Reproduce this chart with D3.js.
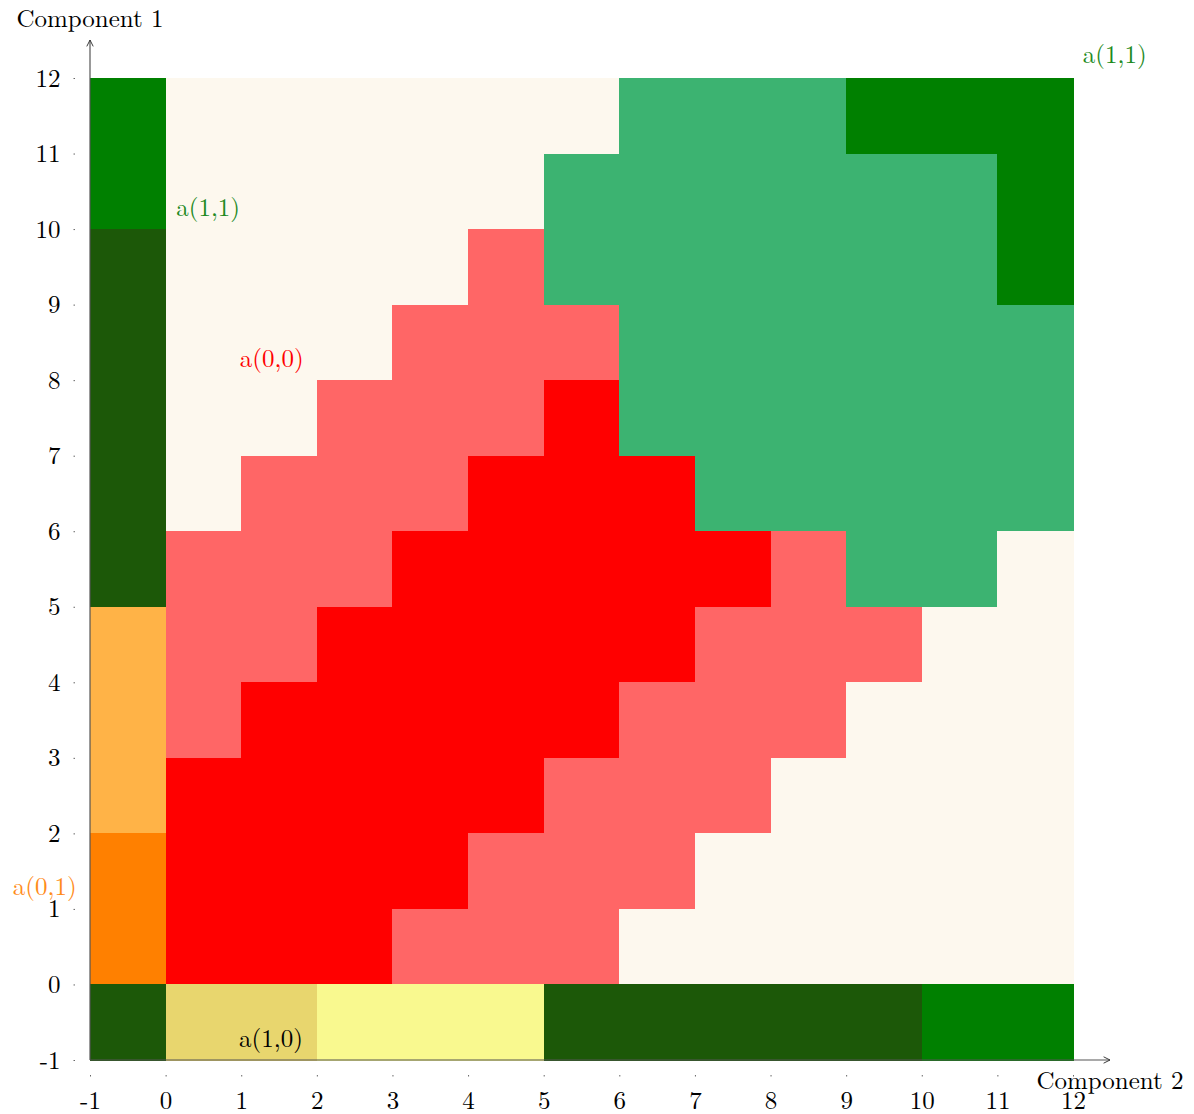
<!DOCTYPE html>
<html>
<head>
<meta charset="utf-8">
<script src="https://cdn.jsdelivr.net/npm/d3@7"></script>
<style>
  body { margin: 0; background: #fff; }
  text { font-family: "Latin Modern Roman", "Liberation Serif", serif; }
</style>
</head>
<body>
<div id="chart"></div>
<script>
// grid values, x = Component 2 (-1..11 cell starts), y = Component 1 rows from top (11) down to -1
var xCells = [-1, 0, 1, 2, 3, 4, 5, 6, 7, 8, 9, 10, 11];
var yRows = [11, 10, 9, 8, 7, 6, 5, 4, 3, 2, 1, 0, -1];
var rowCodes = [
    "GCCCCCCSSSGGG",
    "GCCCCCSSSSSSG",
    "DCCCCLSSSSSSG",
    "DCCCLLLSSSSSS",
    "DCCLLLRSSSSSS",
    "DCLLLRRRSSSSS",
    "DLLLRRRRRLSSC",
    "PLLRRRRRLLLCC",
    "PLRRRRRLLLCCC",
    "PRRRRRLLLCCCC",
    "ORRRRLLLCCCCC",
    "ORRRLLLCCCCCC",
    "DKKYYYDDDDDGG"
];
var codeKeys = ["D", "G", "S", "R", "L", "C", "O", "P", "K", "Y"];
var codeColors = ["#1c5808", "#008000", "#3cb371", "#ff0000", "#ff6666", "#fdf8ee",
                  "#ff8000", "#ffb347", "#e8d66e", "#f9f98f"];
var tickValues = [-1, 0, 1, 2, 3, 4, 5, 6, 7, 8, 9, 10, 11, 12];

var labelText = ["a(1,1)", "a(1,1)", "a(0,0)", "a(0,1)", "a(1,0)"];
var labelX = [12.13, 0.14, 0.98, -2.02, 0.97];
var labelY = [12.2, 10.17, 8.17, 1.18, -0.83];
var labelColor = ["#1e8a1e", "#1e8a1e", "#ff0000", "#ff8c1a", "#000000"];

(() => {
    var width = 1194, height = 1114;

    var svg = d3.select("#chart")
        .append("svg")
        .attr("width", width)
        .attr("height", height);

    var x = d3.scaleLinear().domain([-1, 12]).range([90, 1073]);
    var y = d3.scaleLinear().domain([-1, 12]).range([1060, 78]);
    var color = d3.scaleOrdinal().domain(codeKeys).range(codeColors);

    var cells = [];
    rowCodes.forEach(function (row, i) {
        row.split("").forEach(function (c, j) {
            cells.push({ x: xCells[j], y: yRows[i], code: c });
        });
    });

    svg.append("g")
        .selectAll("rect")
        .data(cells)
        .enter()
        .append("rect")
        .attr("x", function (d) { return x(d.x); })
        .attr("y", function (d) { return y(d.y + 1); })
        .attr("width", x(1) - x(0) + 0.5)
        .attr("height", y(0) - y(1) + 0.5)
        .attr("fill", function (d) { return color(d.code); })
        .attr("shape-rendering", "crispEdges");

    // axis lines with arrows
    svg.append("defs").append("marker")
        .attr("id", "arr")
        .attr("viewBox", "0 0 10 10")
        .attr("refX", 9).attr("refY", 5)
        .attr("markerWidth", 8).attr("markerHeight", 8)
        .attr("markerUnits", "userSpaceOnUse")
        .attr("orient", "auto")
        .append("path")
        .attr("d", "M1,1 L9,5 L1,9")
        .attr("fill", "none")
        .attr("stroke", "#333")
        .attr("stroke-width", 1.2);

    svg.append("line")
        .attr("x1", x(-1)).attr("y1", y(-1))
        .attr("x2", 1110).attr("y2", y(-1))
        .attr("stroke", "#555").attr("stroke-width", 1.2)
        .attr("marker-end", "url(#arr)");
    svg.append("line")
        .attr("x1", x(-1)).attr("y1", y(-1))
        .attr("x2", x(-1)).attr("y2", 40)
        .attr("stroke", "#555").attr("stroke-width", 1.2)
        .attr("marker-end", "url(#arr)");

    var xAxis = svg.append("g")
        .attr("transform", "translate(0,1075)")
        .call(d3.axisBottom(x).tickValues(tickValues).tickSize(1.5).tickPadding(15)
            .tickFormat(function (d) { return d < 0 ? "-" + Math.abs(d) : d; }));
    var yAxis = svg.append("g")
        .attr("transform", "translate(75,0)")
        .call(d3.axisLeft(y).tickValues(tickValues).tickSize(1.5).tickPadding(13)
            .tickFormat(function (d) { return d < 0 ? "-" + Math.abs(d) : d; }));

    [xAxis, yAxis].forEach(function (a) {
        a.select(".domain").remove();
        a.selectAll("line").attr("stroke", "#666");
        a.selectAll("text")
            .attr("fill", "#000")
            .style("font-family", '"Latin Modern Roman", "Liberation Serif", serif')
            .style("font-size", "25px");
    });

    svg.append("text")
        .text("Component 1")
        .attr("x", 90).attr("y", 27)
        .style("text-anchor", "middle")
        .style("font-size", "25px");
    svg.append("text")
        .text("Component 2")
        .attr("x", 1110).attr("y", 1089)
        .style("text-anchor", "middle")
        .style("font-size", "25px");

    svg.append("g")
        .selectAll("text")
        .data(labelText)
        .enter()
        .append("text")
        .attr("x", function (d, i) { return x(labelX[i]); })
        .attr("y", function (d, i) { return y(labelY[i]); })
        .attr("fill", function (d, i) { return labelColor[i]; })
        .style("font-size", "25px")
        .text(function (d) { return d; });
})();
</script>
</body>
</html>
